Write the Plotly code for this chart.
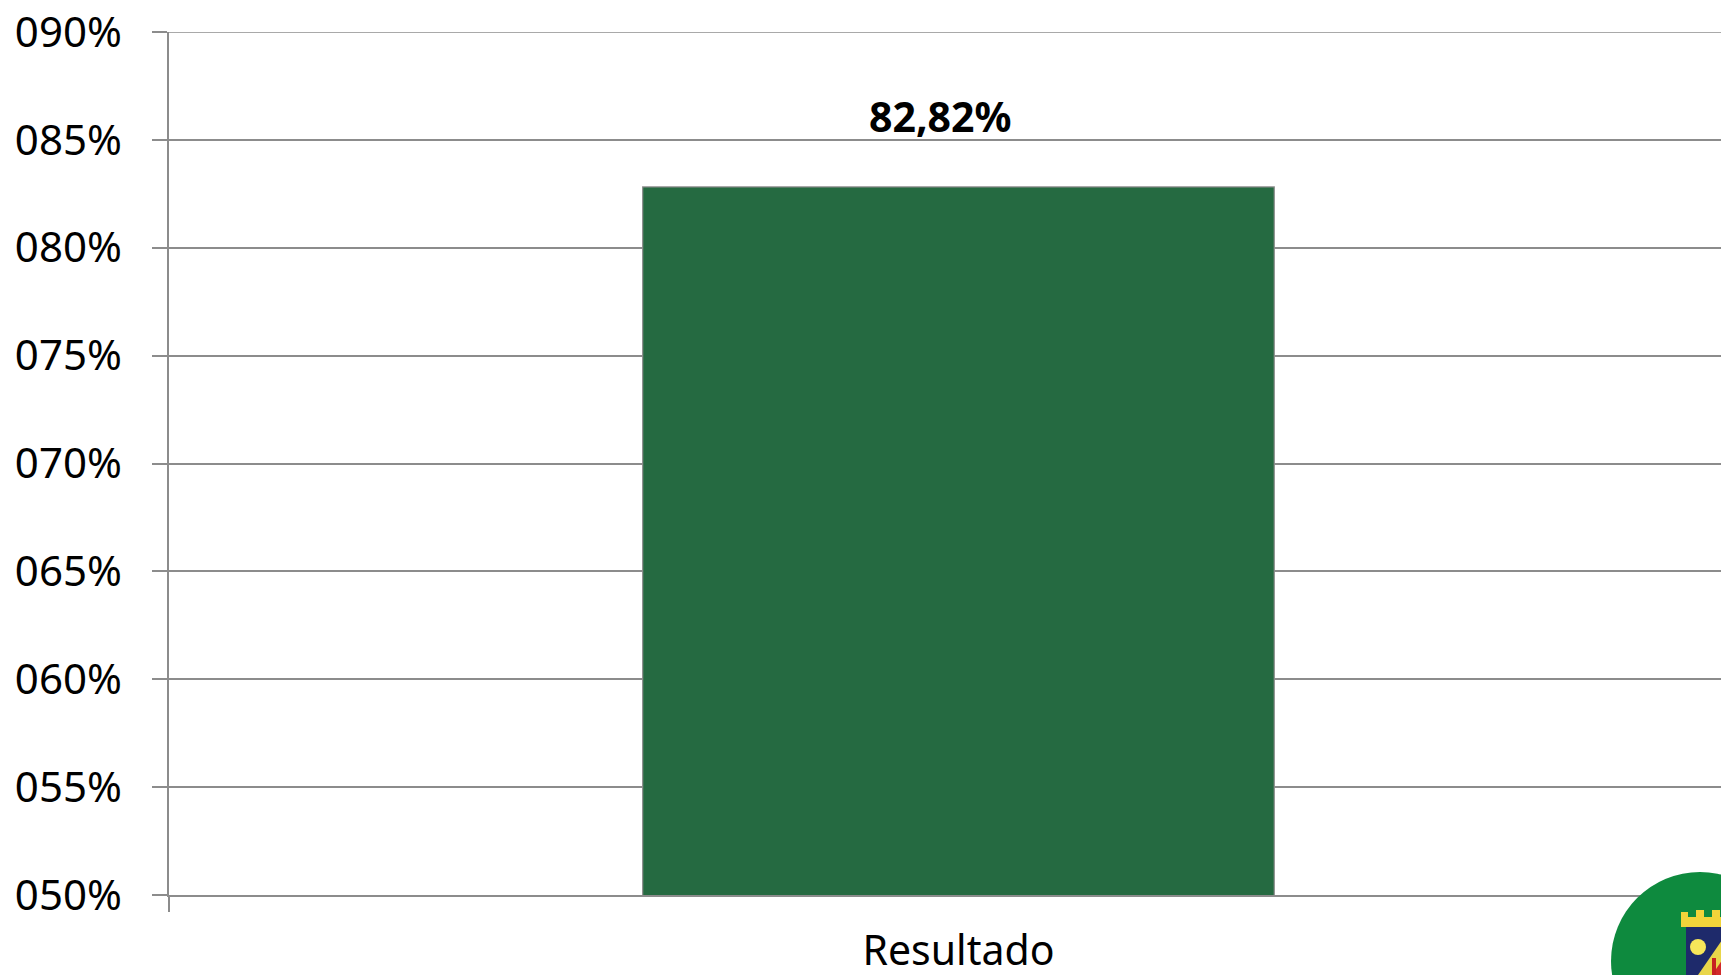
import plotly.graph_objects as go

categories = ["Resultado"]
values = [82.82]
y_ticks = [50, 55, 60, 65, 70, 75, 80, 85, 90]
y_tick_labels = [f"{v:03d}%" for v in y_ticks]
bar_labels = [f"{v:.2f}%".replace(".", ",") for v in values]

# page body has an 8px default margin
OFF = 8
W, H = 1721, 967
ML, MR, MT, MB = 161, 0, 24, 80
PL, PR, PT, PB = OFF + ML, OFF + W - MR, OFF + MT, OFF + H - MB  # plot area in page px

fig = go.Figure()
fig.add_trace(go.Bar(
    x=categories, y=values,
    marker=dict(color="#256A41", line=dict(color="#8C8C8C", width=1.2)),
    width=0.4, hoverinfo="skip", showlegend=False,
))

for c, v, t in zip(categories, values, bar_labels):
    fig.add_annotation(x=c, y=v, text=f"<b>{t}</b>", showarrow=False,
                       yanchor="middle", yshift=71, xshift=-18,
                       font=dict(family="Noto Sans", size=41, color="#000000"))

# top gridline (range edge)
fig.add_shape(type="line", xref="paper", yref="y", x0=-15 / (PR - PL), x1=1,
              y0=y_ticks[-1], y1=y_ticks[-1], line=dict(color="#8C8C8C", width=1.5),
              layer="below")

# logo approximation (bottom-right emblem), positioned in page pixels
def px(x):
    return (x - PL) / (PR - PL)
def py(y):
    return (PB - y) / (PB - PT)

cx, cy, R = 1700, 961, 89
fig.add_shape(type="circle", xref="paper", yref="paper",
              x0=px(cx - R), x1=px(cx + R), y0=py(cy + R), y1=py(cy - R),
              fillcolor="#0E8A3E", line=dict(width=0), layer="above")
fig.add_shape(type="path", xref="paper", yref="paper",
              path=(f"M {px(1681)},{py(927)} L {px(1681)},{py(912)} L {px(1688)},{py(912)} "
                    f"L {px(1688)},{py(917)} L {px(1696)},{py(917)} L {px(1696)},{py(910)} "
                    f"L {px(1704)},{py(910)} L {px(1704)},{py(917)} L {px(1712)},{py(917)} "
                    f"L {px(1712)},{py(910)} L {px(1720)},{py(910)} L {px(1720)},{py(917)} "
                    f"L {px(1729)},{py(917)} L {px(1729)},{py(927)} Z"),
              fillcolor="#F2D43A", line=dict(width=0), layer="above")
fig.add_shape(type="rect", xref="paper", yref="paper",
              x0=px(1686), x1=px(1729), y0=py(975), y1=py(927),
              fillcolor="#1E2A6B", line=dict(width=0), layer="above")
fig.add_shape(type="path", xref="paper", yref="paper",
              path=f"M {px(1698)},{py(975)} L {px(1729)},{py(930)} L {px(1729)},{py(975)} Z",
              fillcolor="#E9D64A", line=dict(width=0), layer="above")
fig.add_shape(type="path", xref="paper", yref="paper",
              path=f"M {px(1712)},{py(975)} L {px(1729)},{py(950)} L {px(1729)},{py(975)} Z",
              fillcolor="#D22A2A", line=dict(width=0), layer="above")
fig.add_shape(type="rect", xref="paper", yref="paper",
              x0=px(1712), x1=px(1716), y0=py(975), y1=py(958),
              fillcolor="#C62222", line=dict(width=0), layer="above")
fig.add_shape(type="circle", xref="paper", yref="paper",
              x0=px(1690), x1=px(1706), y0=py(955), y1=py(939),
              fillcolor="#F7E65A", line=dict(width=0), layer="above")

fig.update_layout(
    width=W, height=H,
    margin=dict(l=ML, r=MR, t=MT, b=MB, pad=0, autoexpand=False),
    paper_bgcolor="#FFFFFF", plot_bgcolor="#FFFFFF",
    bargap=0.6,
    font=dict(family="Noto Sans", color="#000000"),
    xaxis=dict(
        range=[-0.5, 0.488], showline=True, linecolor="#8C8C8C", linewidth=1.5,
        ticks="outside", tickson="boundaries", ticklen=15, tickcolor="#8C8C8C",
        tickwidth=1.5, showgrid=False, zeroline=False, automargin=False,
        tickfont=dict(family="Noto Sans", size=41, color="#000000"),
        ticklabelstandoff=19, ticklabeloverflow="allow",
    ),
    yaxis=dict(
        range=[49.9999, 90.0001], tickvals=y_ticks, ticktext=y_tick_labels,
        showline=True, linecolor="#8C8C8C", linewidth=1.5,
        ticks="outside", ticklen=15, tickcolor="#8C8C8C", tickwidth=1.5,
        showgrid=True, gridcolor="#8C8C8C", gridwidth=1.5, zeroline=False,
        automargin=False,
        tickfont=dict(family="Noto Sans", size=42, color="#000000"),
        ticklabelstandoff=22, ticklabeloverflow="allow",
    ),
)

fig.write_html("out.html")
